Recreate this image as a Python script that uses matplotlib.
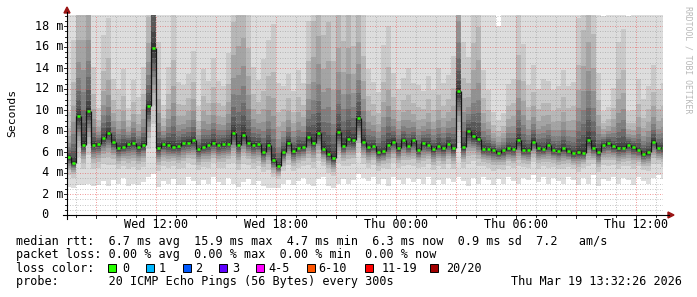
import numpy as np
import matplotlib
matplotlib.use("Agg")
import matplotlib.pyplot as plt
from matplotlib.patches import Rectangle, Polygon
from matplotlib.transforms import blended_transform_factory

W, H = 697, 297

# samples every 15 min, hours counted from Wed 00:00
t_start = 7.5
t_step = 0.25

# median rtt per sample (ms)
median_ms = [
    5.5, 5.0, 9.4, 6.7, 9.9, 6.7, 6.8, 7.3, 7.8, 7.0,
    6.4, 6.5, 6.8, 6.85, 6.45, 6.7, 10.4, 15.9, 6.4, 6.8,
    6.7, 6.5, 6.6, 6.9, 6.9, 7.1, 6.3, 6.5, 6.7, 6.9,
    6.65, 6.8, 6.8, 7.8, 6.7, 7.6, 6.9, 6.7, 6.8, 6.0,
    6.7, 5.2, 4.7, 6.0, 6.9, 6.1, 6.4, 6.5, 7.4, 6.9,
    7.8, 6.3, 5.8, 5.4, 7.9, 6.6, 7.2, 7.1, 9.2, 7.0,
    6.45, 6.6, 6.0, 6.05, 6.7, 7.0, 6.35, 7.1, 6.6, 7.1,
    6.2, 6.85, 6.7, 6.3, 6.6, 6.4, 6.8, 6.35, 11.8, 6.5,
    8.0, 7.5, 7.2, 6.3, 6.3, 6.2, 5.95, 6.15, 6.35, 6.3,
    7.1, 6.2, 6.2, 7.0, 6.4, 6.3, 6.7, 6.2, 6.1, 6.4,
    6.1, 5.9, 6.0, 5.9, 7.1, 6.4, 6.0, 6.7, 6.9, 6.55,
    6.4, 6.4, 6.7, 6.5, 6.2, 5.85, 6.0, 7.0, 6.4, 6.4,
]

# fastest ping per sample (ms)
low_ms = [
    2.7, 2.6, 2.9, 2.9, 3.0, 2.8, 2.9, 3.2, 2.8, 3.3,
    3.0, 3.5, 2.8, 3.0, 2.9, 3.1, 3.6, 3.9, 2.7, 3.2,
    3.0, 3.4, 2.9, 2.9, 3.6, 3.2, 2.9, 3.3, 3.0, 3.6,
    3.1, 2.9, 3.5, 3.0, 2.7, 3.1, 3.4, 2.9, 3.2, 2.8,
    2.6, 2.6, 2.6, 3.0, 3.3, 2.9, 3.2, 3.5, 3.0, 2.8,
    3.4, 3.6, 2.8, 2.6, 3.0, 3.4, 3.0, 3.3, 3.9, 3.5,
    3.2, 3.6, 3.0, 3.4, 2.8, 3.6, 3.3, 3.0, 3.5, 3.1,
    3.4, 3.0, 3.6, 2.9, 3.3, 3.0, 3.5, 3.1, 3.6, 3.2,
    2.8, 3.5, 3.0, 3.6, 3.3, 2.9, 3.4, 3.0, 3.6, 3.2,
    3.0, 3.5, 3.3, 3.8, 3.1, 3.6, 3.0, 3.5, 3.2, 3.0,
    3.6, 3.3, 2.9, 3.5, 3.0, 3.8, 2.8, 3.4, 3.2, 3.6,
    3.0, 3.5, 3.3, 2.9, 3.6, 3.2, 3.0, 3.5, 3.8, 3.4,
]

# slowest ping per sample (ms), mostly above the top of the graph
high_ms = [
    22, 50, 70, 90, 90, 35, 20, 45, 50, 30,
    28, 35, 20, 30, 25, 35, 60, 150, 45, 21,
    35, 55, 30, 28, 32, 40, 22, 35, 30, 38,
    30, 28, 40, 70, 85, 85, 60, 35, 30, 40,
    45, 55, 35, 30, 32, 28, 35, 30, 50, 75,
    85, 70, 80, 60, 75, 65, 80, 60, 70, 55,
    35, 30, 28, 45, 50, 32, 28, 30, 35, 28,
    30, 26, 32, 28, 35, 30, 32, 40, 90, 45,
    35, 60, 70, 35, 28, 20, 18, 20, 30, 32,
    55, 45, 30, 35, 28, 32, 30, 28, 30, 35,
    30, 32, 55, 75, 85, 70, 35, 19, 20, 28,
    45, 50, 19, 20, 32, 26, 30, 35, 28, 30,
]

tick_hours = [12, 18, 24, 30, 36]
tick_labels = ["Wed 12:00", "Wed 18:00", "Thu 00:00", "Thu 06:00", "Thu 12:00"]
y_ticks = [0, 2, 4, 6, 8, 10, 12, 14, 16, 18]
y_labels = [" 0", " 2 m", " 4 m", " 6 m", " 8 m", "10 m", "12 m", "14 m", "16 m", "18 m"]

loss_labels = ["0", "1", "2", "3", "4-5", "6-10", "11-19", "20/20"]
loss_colors = ["#26ff00", "#00b8ff", "#0059ff", "#5e00ff", "#ff00ff", "#ff5500", "#ff0000", "#a10000"]

row_rtt = "median rtt:  6.7 ms avg  15.9 ms max  4.7 ms min  6.3 ms now  0.9 ms sd  7.2   am/s"
row_loss = "packet loss: 0.00 % avg  0.00 % max  0.00 % min  0.00 % now"
row_probe = "probe:       20 ICMP Echo Pings (56 Bytes) every 300s"
stamp = "Thu Mar 19 13:32:26 2026"

# how the 20 sorted pings spread between median and extremes (smoke profile)
UP_FRAC = [0.004, 0.012, 0.025, 0.04, 0.06, 0.085, 0.12, 0.17, 0.26, 1.0]
DN_FRAC = [0.03, 0.08, 0.13, 0.18, 0.23, 0.29, 0.36, 0.45, 0.6, 1.0]

MONO = "DejaVu Sans Mono"
FS = 8.5


def px(x):
    return x / W


def py(y):
    return 1 - y / H


med = np.array(median_ms)
lo = np.array(low_ms)
hi = np.array(high_ms)
n = len(med)
edges = t_start + t_step * np.arange(n + 1)

# sorted pings p1..p20
pings = []
for k in range(1, 11):
    pings.append(med - DN_FRAC[10 - k] * (med - lo))
for k in range(11, 21):
    pings.append(med + UP_FRAC[k - 11] * (hi - med))

fig = plt.figure(figsize=(W / 100, H / 100), dpi=100)
fig.patch.set_facecolor("white")
ax = fig.add_axes([px(67), py(215), px(663) - px(67), py(15) - py(215)])
ax.set_facecolor("white")
x0, x1 = 12 - (156 - 67) / 20, 12 + (663 - 156) / 20
ax.set_xlim(x0, x1)
ax.set_ylim(0, 200 / 10.5)
for s in ax.spines.values():
    s.set_visible(False)
ax.set_xticks([])
ax.set_yticks([])

# smoke: band i spans p_i .. p_(21-i), darker towards the middle
for i in range(1, 11):
    g = int(190 / 10 * (10 - i)) + 50
    col = "#%02x%02x%02x" % (g, g, g)
    ax.stairs(pings[20 - i], edges, baseline=pings[i - 1], fill=True,
              color=col, lw=0, antialiased=False, zorder=1)

# grid
gkw = dict(lw=0.72, linestyle=(0, (1, 1.5)), zorder=3)
for v in np.arange(0.5, 19.01, 0.5):
    if abs(v % 2) < 1e-6:
        ax.axhline(v, color=(0.9, 0.3, 0.3, 0.55), **gkw)
    else:
        ax.axhline(v, color=(0.6, 0.6, 0.6, 0.55), **gkw)
for h in range(8, 38):
    if h % 3 == 0:
        ax.axvline(h, color=(0.9, 0.3, 0.3, 0.55), **gkw)
    else:
        ax.axvline(h, color=(0.6, 0.6, 0.6, 0.55), **gkw)

# median: dark joins plus green dots (0 % loss)
ax.vlines(edges[1:-1], np.minimum(med[:-1], med[1:]), np.maximum(med[:-1], med[1:]),
          color="#151515", lw=0.9, zorder=4)
ax.hlines(med, edges[:-1] + 0.06, edges[1:] - 0.06, color=loss_colors[0], lw=1.8, zorder=5)

# axes with arrows
arrow_c = "#9a1414"
fig.add_artist(plt.Line2D([px(63), px(669)], [py(215), py(215)], color="black", lw=0.8))
fig.add_artist(plt.Line2D([px(67), px(67)], [py(219), py(12)], color="black", lw=0.8))
fig.add_artist(Polygon([[px(668), py(212)], [px(674), py(215)], [px(668), py(218)]],
                       closed=True, color=arrow_c, transform=fig.transFigure))
fig.add_artist(Polygon([[px(64), py(13)], [px(67), py(7)], [px(70), py(13)]],
                       closed=True, color=arrow_c, transform=fig.transFigure))
# small ticks on the axes
for h in range(8, 38):
    ln = 3 if h % 3 == 0 else 2
    xp = 67 + (h - x0) * 20
    fig.add_artist(plt.Line2D([px(xp), px(xp)], [py(215), py(215 + ln)], color="black", lw=0.6))
for v in np.arange(0.5, 19.01, 0.5):
    yp = 215 - v * 10.5
    ln = 3 if abs(v % 2) < 1e-6 else 2
    fig.add_artist(plt.Line2D([px(67 - ln), px(67)], [py(yp), py(yp)], color="black", lw=0.6))

# x labels
for h, lab in zip(tick_hours, tick_labels):
    fig.text(px(67 + (h - x0) * 20), py(224), lab, family=MONO, fontsize=FS,
             ha="center", va="center")

# y labels
ytr = blended_transform_factory(fig.transFigure, ax.transData)
for v, lab in zip(y_ticks, y_labels):
    fig.text(px(35), v, lab, family=MONO, fontsize=FS, ha="left", va="center", transform=ytr)

fig.text(px(12), py(113), "Seconds", family=MONO, fontsize=8.2, rotation=90,
         ha="center", va="center")
fig.text(px(688), py(60), "RRDTOOL / TOBI OETIKER", family=MONO, fontsize=5.9,
         rotation=270, ha="center", va="center", color="#b8b8b8")

# legend rows
fig.text(px(16), py(241), row_rtt, family=MONO, fontsize=FS, va="center")
fig.text(px(16), py(254.5), row_loss, family=MONO, fontsize=FS, va="center")
fig.text(px(16), py(268), "loss color:", family=MONO, fontsize=FS, va="center")
fig.text(px(16), py(281.5), row_probe, family=MONO, fontsize=FS, va="center")
fig.text(px(682), py(281.5), stamp, family=MONO, fontsize=FS, va="center", ha="right")

box_x = [108, 146, 182.7, 219.3, 256, 307.3, 365, 430]
lab_x = [122.5, 158.5, 195.5, 232, 268, 318.5, 381.5, 446.5]
for bx, lx, lab, col in zip(box_x, lab_x, loss_labels, loss_colors):
    fig.add_artist(Rectangle((px(bx), py(272)), px(8), 8 / H, facecolor=col,
                             edgecolor="black", lw=0.7, transform=fig.transFigure))
    fig.text(px(lx), py(268), lab, family=MONO, fontsize=FS, va="center")

fig.savefig("out.png", dpi=100, facecolor="white")
